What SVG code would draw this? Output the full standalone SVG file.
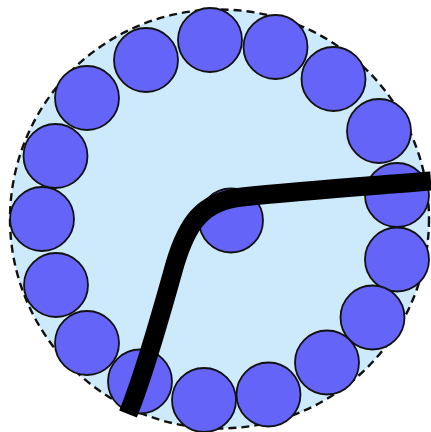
<svg xmlns="http://www.w3.org/2000/svg" width="431" height="432" viewBox="0 0 431 432">
<style>
.ring{fill:#6464f8;stroke:#111;stroke-width:1.8}
.outer{fill:#cdeafc;stroke:#111;stroke-width:2.4;stroke-dasharray:8 5}
.wire{fill:none;stroke:#000;stroke-width:19;stroke-linecap:butt}
</style>
<rect width="431" height="432" fill="#fff"/>
<g id="boundary"><circle class="outer" cx="219.5" cy="219" r="209.5"/></g>
<g id="ring">
<circle id="c1" class="ring" cx="210" cy="40" r="32"/>
<circle id="c2" class="ring" cx="275.5" cy="47" r="32"/>
<circle id="c3" class="ring" cx="333.5" cy="79" r="32"/>
<circle id="c4" class="ring" cx="379" cy="131" r="32"/>
<circle id="c5" class="ring" cx="397" cy="195" r="32"/>
<circle id="c6" class="ring" cx="397" cy="259.5" r="32"/>
<circle id="c7" class="ring" cx="372.5" cy="317.5" r="32"/>
<circle id="c8" class="ring" cx="327" cy="362.5" r="32"/>
<circle id="c9" class="ring" cx="268.5" cy="394.5" r="32"/>
<circle id="c10" class="ring" cx="204" cy="400" r="32"/>
<circle id="c11" class="ring" cx="140" cy="381.5" r="32"/>
<circle id="c12" class="ring" cx="87" cy="343" r="32"/>
<circle id="c13" class="ring" cx="56" cy="285" r="32"/>
<circle id="c14" class="ring" cx="42" cy="219" r="32"/>
<circle id="c15" class="ring" cx="55.5" cy="156" r="32"/>
<circle id="c16" class="ring" cx="87" cy="98" r="32"/>
<circle id="c17" class="ring" cx="146" cy="60" r="32"/>
</g>
<g id="center"><circle class="ring" cx="231" cy="220.5" r="32"/></g>
<g id="connectors">
<path class="wire" d="M128,414 C142,380 160,318 175,264 C187,224 202,201 242,197 C300,191 370,186 431,181"/>
</g>
</svg>
